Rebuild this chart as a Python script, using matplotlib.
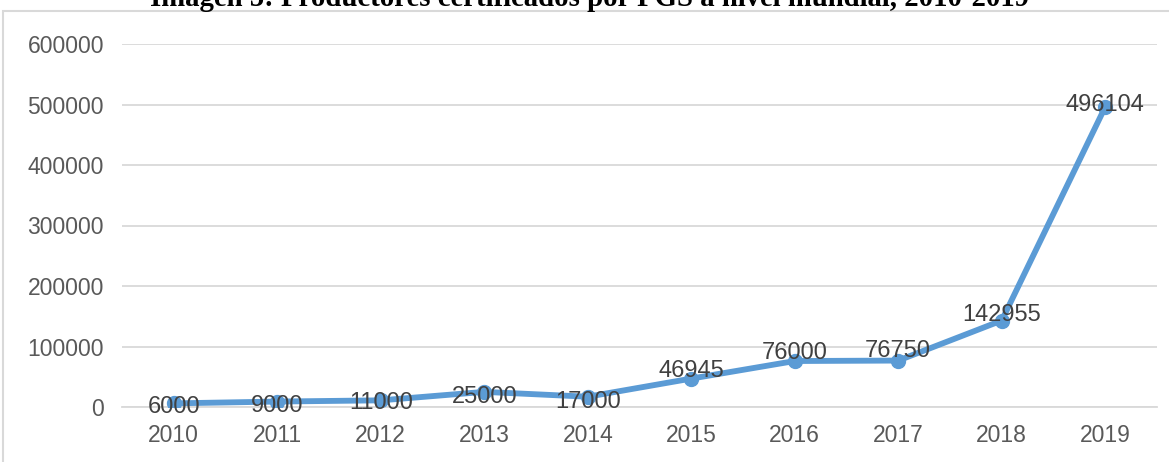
import matplotlib
matplotlib.use("Agg")
import matplotlib.pyplot as plt
from matplotlib.patches import Rectangle

years = ["2010", "2011", "2012", "2013", "2014", "2015", "2016", "2017", "2018", "2019"]
producers = [6000, 9000, 11000, 25000, 17000, 46945, 76000, 76750, 142955, 496104]
yticks = [0, 100000, 200000, 300000, 400000, 500000, 600000]
title = "Imagen 5: Productores certificados por PGS a nivel mundial, 2010-2019"

# label vertical nudges in pixels (styling only)
label_dy = [-4, -4, -3, -5, -5, 8, 8, 10, 6, 2]

W, H = 1169, 462
fig = plt.figure(figsize=(W / 100, H / 100), dpi=100)
ax = fig.add_axes([122 / W, 1 - 407 / H, (1157 - 122) / W, (407 - 44) / H])

x = list(range(len(years)))
ax.plot(x, producers, color="#5B9BD5", linewidth=4.2, marker="o", markersize=10,
        solid_capstyle="round", solid_joinstyle="round", zorder=3)

for xi, v, dy in zip(x, producers, label_dy):
    ax.annotate(str(v), (xi, v), xytext=(0, dy * 0.72), textcoords="offset points",
                ha="center", va="center", fontsize=17, color="#404040",
                family="Liberation Sans", zorder=4)

ax.set_xlim(-0.5, len(years) - 0.5)
ax.set_ylim(0, 600000)
ax.set_yticks(yticks)
ax.set_yticklabels([str(t) for t in yticks])
ax.set_xticks(x)
ax.set_xticklabels(years)
ax.yaxis.grid(True, color="#D9D9D9", linewidth=1.3)
ax.set_axisbelow(True)
for s in ["top", "right", "left"]:
    ax.spines[s].set_visible(False)
ax.spines["bottom"].set_color("#D9D9D9")
ax.spines["bottom"].set_linewidth(1.3)
ax.tick_params(axis="both", length=0, labelsize=16.5, labelcolor="#595959")
ax.tick_params(axis="x", pad=12)
ax.tick_params(axis="y", pad=13)
for lbl in ax.get_xticklabels() + ax.get_yticklabels():
    lbl.set_family("Liberation Sans")

# chart border
fig.patches.append(Rectangle((3 / W, -0.05), 1.2, 1 - 11 / H + 0.05,
                             transform=fig.transFigure, fill=False,
                             edgecolor="#D9D9D9", linewidth=1.5))

fig.text(589 / W, 1 - 5.5 / H, title, ha="center", va="baseline", fontsize=20.7,
         fontweight="bold", family="Liberation Serif", color="black")

fig.savefig("out.png", dpi=100)
